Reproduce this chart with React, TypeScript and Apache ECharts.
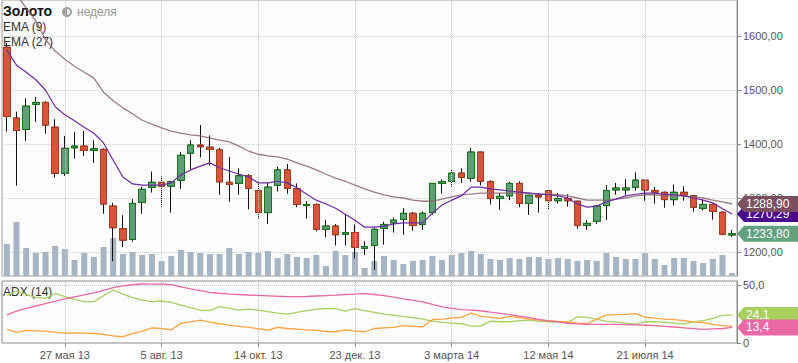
import React, { useEffect, useRef } from "react";
import * as echarts from "echarts";

const categories = [
  "15.04.13","22.04.13","29.04.13","06.05.13","13.05.13","20.05.13","27.05.13","03.06.13","10.06.13","17.06.13",
  "24.06.13","01.07.13","08.07.13","15.07.13","22.07.13","29.07.13","05.08.13","12.08.13","19.08.13","26.08.13",
  "02.09.13","09.09.13","16.09.13","23.09.13","30.09.13","07.10.13","14.10.13","21.10.13","28.10.13","04.11.13",
  "11.11.13","18.11.13","25.11.13","02.12.13","09.12.13","16.12.13","23.12.13","30.12.13","06.01.14","13.01.14",
  "20.01.14","27.01.14","03.02.14","10.02.14","17.02.14","24.02.14","03.03.14","10.03.14","17.03.14","24.03.14",
  "31.03.14","07.04.14","14.04.14","21.04.14","28.04.14","05.05.14","12.05.14","19.05.14","26.05.14","02.06.14",
  "09.06.14","16.06.14","23.06.14","30.06.14","07.07.14","14.07.14","21.07.14","28.07.14","04.08.14","11.08.14",
  "18.08.14","25.08.14","01.09.14","08.09.14","15.09.14","22.09.14"
];

const tickDates = ["27.05.13","05.08.13","14.10.13","23.12.13","03.03.14","12.05.14","21.07.14"];
const tickLabels = ["27 мая 13","5 авг. 13","14 окт. 13","23 дек. 13","3 марта 14","12 мая 14","21 июля 14"];

const openP = [
  1579,1448,1427,1473.5,1477,1431,1346,1393,1396,1388,
  1390,1285,1243,1223.5,1292,1320,1329,1322,1333,1383,
  1398,1394,1389,1329,1327,1341,1314,1273,1323.5,1352,
  1317,1286,1288,1242,1248,1233,1236,1207,1212,1244,
  1254,1260.5,1271.6,1251,1273,1327,1331,1346,1336.5,1385,
  1330,1299,1304,1327,1290,1305,1313.5,1295,1299,1294,
  1249,1257,1286,1315,1315,1320,1333,1314,1310.5,1297,
  1310.5,1304,1281,1288,1273.5,1231.5
];
const closeP = [
  1451,1425,1470,1477,1435,1346,1392,1396,1388,1391,
  1289,1245,1222,1290,1316,1329,1322,1330,1379,1398,
  1395,1390,1330,1325,1341,1318,1273.5,1320,1352,1318,
  1288,1288,1242,1248,1232,1236,1209,1210,1242,1251,
  1259,1271.6,1249,1271.6,1327,1330,1346,1338,1385,1331,
  1299,1303,1327,1290,1305,1302,1295,1299,1295,1249,
  1253,1285,1314,1318.5,1318.5,1333,1315,1311,1297,1310.5,
  1305.6,1283,1288,1275,1233,1233.8
];
const lowP = [
  1423,1323,1406,1441,1419,1338,1341,1373,1378,1365,
  1271,1183,1209,1219,1271,1310,1284,1273,1317,1352,
  1375,1360,1306,1293,1306,1279,1262,1252,1312,1308,
  1283,1262,1238,1227,1212,1212,1188,1194,1167,1213.5,
  1236,1232,1239.5,1241,1269,1308,1321,1328,1330,1323.5,
  1288,1278,1296,1283,1268.5,1273,1278,1290,1284,1243,
  1241,1252,1259,1306,1305,1313.5,1295,1289.5,1282,1286,
  1295,1274.6,1276.5,1260,1231,1228
];
const highP = [
  1587,1460,1485,1487,1479,1446,1415,1422,1424,1407,
  1392,1291,1268,1298,1321,1349,1340,1332,1385,1407,
  1435,1416,1393,1376,1355,1344,1330,1329,1358,1363,
  1327,1294,1290,1259,1252,1269,1251,1220,1245,1256,
  1263.5,1281.5,1274,1275,1328,1334.6,1353,1355,1393,1386,
  1333,1309,1330,1331,1306,1309,1316,1309,1307,1295,
  1259,1286,1324,1328,1334.6,1347.5,1334,1320,1312,1325,
  1321.6,1305,1297.6,1290,1275,1240.7
];
const volume = [
  32,54,28,23,24,30,27,16,23,19,
  29,38,22,24,21,22,15,20,26,24,
  23,22,22,28,22,24,23,25,18,22,
  19,18,21,10,25,21,24,8,15,20,
  16,12,15,16,20,16,21,23,25,22,
  17,16,18,17,19,19,17,18,17,15,
  16,15,23,19,17,17,23,17,11,18,
  18,15,13,17,21,3
];
const ema9 = [
  1574,1546,1533,1519,1500,1469,1454,1443,1431,1420,
  1402,1370,1339,1326,1324,1324,1324,1328,1343,1352,
  1359,1365,1356,1350,1344,1339,1328,1328,1331,1328,
  1319,1307,1296,1289,1281,1270,1259,1246,1246,1248,
  1252,1254,1254,1254,1272,1287,1296,1304,1320,1320,
  1317,1315,1313,1311,1309,1307,1306,1304,1300,1289,
  1283,1285,1293,1298,1304,1307,1309,1309,1307,1306,
  1304,1300,1296,1291,1280,1270.29
];
const ema27 = [
  1704,1676,1652,1628,1593,1572,1557,1544,1533,1522,
  1496,1480,1467,1456,1444,1437,1430,1424,1420,1417,
  1415,1411,1407,1404,1396,1387,1381,1378,1376,1372,
  1365,1359,1352,1344,1337,1331,1324,1317,1311,1306,
  1302,1300,1296,1294,1294,1298,1302,1306,1307,1309,
  1309,1309,1309,1309,1309,1307,1307,1306,1304,1300,
  1296,1296,1296,1298,1300,1304,1306,1306,1304,1304,
  1304,1302,1300,1296,1293,1288.9
];
const adx = [
  24.2,27.4,29.8,31.9,34.0,36.0,38.1,39.8,41.4,43.2,
  45.4,47.7,49.2,50.2,50.9,50.8,50.7,50.3,48.3,46.6,
  45.2,43.7,42.9,42.2,41.8,41.4,41.1,40.7,40.3,40.0,
  40.0,40.1,40.5,40.9,41.3,41.8,42.1,42.6,41.8,40.9,
  39.5,38.1,36.8,35.4,33.4,31.1,29.8,28.7,28.4,27.8,
  26.6,25.5,24.4,23.2,21.8,20.3,19.1,18.2,17.0,16.5,
  16.1,16.0,16.0,16.0,15.9,15.6,15.3,15.0,14.4,13.8,
  13.1,12.4,11.7,12.1,12.5,13.4
];
const diPlus = [
  41.3,44.8,42.0,39.4,38.5,42.8,40.0,37.6,35.6,35.6,
  40.8,45.7,42.2,39.1,37.0,35.6,36.2,35.0,32.7,30.4,
  28.4,27.9,31.3,29.8,28.4,29.2,28.4,27.0,25.8,24.9,
  26.4,27.9,29.2,29.6,29.6,27.5,29.6,27.9,26.4,24.9,
  24.0,22.7,21.8,20.6,18.9,17.7,17.1,16.6,14.5,14.5,
  18.9,18.3,18.3,19.2,19.7,18.9,18.3,18.0,17.5,22.7,
  22.1,20.6,18.6,18.0,17.1,16.3,18.3,18.3,18.0,17.1,
  16.3,18.3,19.2,21.2,24.0,24.1
];
const diMinus = [
  11.7,9.1,10.8,10.5,10.2,9.3,8.5,8.8,8.5,8.2,
  7.4,6.2,5.4,8.0,10.2,13.1,12.5,11.4,16.9,18.3,
  19.7,18.0,16.6,15.4,14.3,13.4,12.3,11.1,13.4,12.5,
  11.9,11.4,10.8,9.9,9.7,11.4,10.2,9.7,12.5,13.1,
  13.4,14.9,14.3,14.0,20.1,20.6,21.5,22.1,25.8,23.2,
  22.1,21.2,22.9,21.8,20.6,19.7,19.2,18.6,18.3,17.1,
  16.6,20.6,24.0,24.4,24.7,25.3,22.3,21.5,20.6,20.1,
  19.2,18.3,17.5,16.0,14.9,14.5
];
const priceTicks = [1200, 1300, 1400, 1500, 1600];
const adxTicks = [0, 50];
const adxTickLabels = ["0", "50,0"];

const FONT = "Arial, 'Liberation Sans', sans-serif";

export default function App() {
  const ref = useRef<HTMLDivElement>(null);

  useEffect(() => {
    const el = ref.current!;
    const chart = echarts.init(el, null, { renderer: "svg" });

    const tickIdx = tickDates.map((d) => categories.indexOf(d));
    const isTick = (i: number) => tickIdx.includes(i);

    const wickData = categories.map((_, i) => [openP[i], closeP[i], lowP[i], highP[i]]);
    const bodyData = categories.map((_, i) => [
      openP[i], closeP[i], Math.min(openP[i], closeP[i]), Math.max(openP[i], closeP[i]),
    ]);

    const vLines = {
      silent: true,
      symbol: ["none", "none"],
      label: { show: false },
      lineStyle: { type: "dotted", color: "#c4c4c4", width: 1 },
      data: tickDates.map((d) => ({ xAxis: d })),
      animation: false,
    };

    const option: any = {
      animation: false,
      backgroundColor: "#ffffff",
      grid: [
        { left: 2, right: 61, top: 0, height: 276, show: true, borderColor: "#a0a0a0", borderWidth: 1, backgroundColor: "#fcfcfc" },
        { left: 2, right: 61, top: 281, height: 62, show: true, borderColor: "#8a8a8a", borderWidth: 1, backgroundColor: "#fcfcfc" },
      ],
      xAxis: [
        {
          type: "category", gridIndex: 0, data: categories, boundaryGap: true,
          axisLine: { show: false }, axisTick: { show: false }, axisLabel: { show: false }, splitLine: { show: false },
        },
        {
          type: "category", gridIndex: 1, data: categories, boundaryGap: true,
          axisLine: { show: false },
          axisTick: { show: true, alignWithLabel: true, interval: (i: number) => isTick(i), length: 4, lineStyle: { color: "#888" } },
          axisLabel: {
            interval: (i: number) => isTick(i),
            formatter: (_v: string, i: number) => {
              const k = tickIdx.indexOf(i);
              return k >= 0 ? tickLabels[k] : "";
            },
            color: "#555", fontSize: 11, fontFamily: FONT, margin: 6,
          },
          splitLine: { show: false },
        },
      ],
      yAxis: [
        {
          type: "value", gridIndex: 0, position: "right", min: 1155.56, max: 1666.67,
          splitNumber: 5, minInterval: 100, maxInterval: 100,
          axisLine: { show: true, lineStyle: { color: "#888" } },
          axisTick: { show: true, length: 4, lineStyle: { color: "#888" } },
          axisLabel: {
            showMinLabel: false, showMaxLabel: false,
            formatter: (v: number) => (priceTicks.some((t) => Math.abs(t - v) < 1e-6) ? v.toFixed(2).replace(".", ",") : ""),
            color: "#555", fontSize: 11, fontFamily: FONT, margin: 6,
          },
          splitLine: { show: true, lineStyle: { type: "dotted", color: "#c8d4c8" } },
        },
        { type: "value", gridIndex: 0, min: 0, max: 276, show: false, splitLine: { show: false } },
        {
          type: "value", gridIndex: 1, position: "right", min: 0, max: 53.45,
          minInterval: 50, maxInterval: 50,
          axisLine: { show: true, lineStyle: { color: "#888" } },
          axisTick: { show: true, length: 4, lineStyle: { color: "#888" } },
          axisLabel: {
            showMinLabel: true, showMaxLabel: false,
            formatter: (v: number) => {
              const k = adxTicks.findIndex((t) => Math.abs(t - v) < 1e-6);
              return k >= 0 ? adxTickLabels[k] : "";
            },
            color: "#555", fontSize: 11, fontFamily: FONT, margin: 6,
          },
          splitLine: { show: true, lineStyle: { type: "dotted", color: "#c8c8c8" } },
        },
      ],
      series: [
        {
          name: "volume", type: "bar", xAxisIndex: 0, yAxisIndex: 1, data: volume, barWidth: 6,
          itemStyle: { color: "#a5b5c3" }, z: 1, markLine: vLines,
        },
        {
          name: "wick", type: "candlestick", xAxisIndex: 0, yAxisIndex: 0, data: wickData, barWidth: 7,
          itemStyle: { color: "#111", color0: "#111", borderColor: "#111", borderColor0: "#111", borderWidth: 1 }, z: 3,
        },
        {
          name: "body", type: "candlestick", xAxisIndex: 0, yAxisIndex: 0, data: bodyData, barWidth: 7,
          itemStyle: { color: "#5f9e79", color0: "#d9543c", borderColor: "#137a13", borderColor0: "#ad3a1c", borderWidth: 1 }, z: 4,
        },
        {
          name: "EMA (27)", type: "line", xAxisIndex: 0, yAxisIndex: 0, data: ema27, symbol: "none",
          lineStyle: { color: "#8a6570", width: 1.3, opacity: 0.85 }, z: 5,
        },
        {
          name: "EMA (9)", type: "line", xAxisIndex: 0, yAxisIndex: 0, data: ema9, symbol: "none",
          lineStyle: { color: "#6e2aa6", width: 1.2 }, z: 6,
        },
        {
          name: "+DI", type: "line", xAxisIndex: 1, yAxisIndex: 2, data: diPlus, symbol: "none",
          lineStyle: { color: "#a9d05e", width: 1.3 }, z: 5, markLine: vLines,
        },
        {
          name: "-DI", type: "line", xAxisIndex: 1, yAxisIndex: 2, data: diMinus, symbol: "none",
          lineStyle: { color: "#ffa23f", width: 1.3 }, z: 6,
        },
        {
          name: "ADX", type: "line", xAxisIndex: 1, yAxisIndex: 2, data: adx, symbol: "none",
          lineStyle: { color: "#ea68a4", width: 1.3 }, z: 7,
        },
      ],
    };

    chart.setOption(option);

    const last = categories.length - 1;
    const py = (v: number) => chart.convertToPixel({ yAxisIndex: 0 } as any, v) as number;
    const ay = (v: number) => chart.convertToPixel({ yAxisIndex: 2 } as any, v) as number;
    const fmt2 = (v: number) => v.toFixed(2).replace(".", ",");
    const fmt1 = (v: number) => v.toFixed(1).replace(".", ",");

    const tag = (y: number, text: string, color: string, z: number) => ({
      type: "group", z: 100 + z,
      children: [
        {
          type: "polygon", z: 100 + z,
          shape: { points: [[737, y], [744, y - 8], [798, y - 8], [798, y + 8], [744, y + 8]] },
          style: { fill: color },
        },
        {
          type: "text", z: 101 + z, x: 746, y: y,
          style: { text, fill: "#ffffff", font: `12px ${FONT}`, verticalAlign: "middle" },
        },
      ],
    });

    chart.setOption({
      graphic: [
        { type: "text", left: 3, top: 4, style: { text: "Золото", fill: "#111", font: `bold 14px ${FONT}` } },
        { type: "circle", shape: { cx: 67, cy: 12, r: 5 }, style: { fill: "#9c9c9c" } },
        { type: "sector", shape: { cx: 67, cy: 12, r0: 0, r: 3.2, startAngle: -Math.PI / 2, endAngle: Math.PI / 2 * 0.9 }, style: { fill: "#e6e6e6" } },
        { type: "text", x: 77, y: 12, style: { text: "неделя", fill: "#9a9a9a", font: `12px ${FONT}`, verticalAlign: "middle" } },
        { type: "text", x: 3, y: 27, style: { text: "EMA (9)", fill: "#333", font: `12px ${FONT}`, verticalAlign: "middle" } },
        { type: "text", x: 3, y: 42, style: { text: "EMA (27)", fill: "#333", font: `12px ${FONT}`, verticalAlign: "middle" } },
        { type: "text", x: 3, y: 292, style: { text: "ADX (14)", fill: "#333", font: `12px ${FONT}`, verticalAlign: "middle" } },
        tag(py(ema9[last]), fmt2(ema9[last]), "#4b0a8c", 1),
        tag(py(ema27[last]), fmt2(ema27[last]), "#7a5060", 2),
        tag(py(closeP[last]), fmt2(closeP[last]), "#62a07e", 3),
        tag(ay(diPlus[last]), fmt1(diPlus[last]), "#a9d05e", 5),
        tag(ay(adx[last]), fmt1(adx[last]), "#ea68a4", 6),
      ],
    });

    return () => chart.dispose();
  }, []);

  return (
    <div
      ref={ref}
      style={{ position: "fixed", left: 0, top: 0, width: 798, height: 363, background: "#fff" }}
    />
  );
}
